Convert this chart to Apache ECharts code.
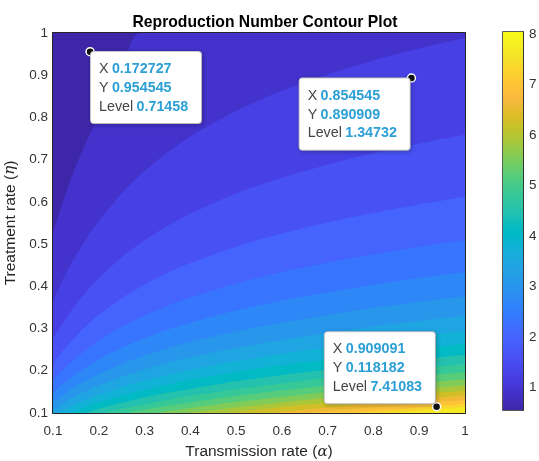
<!DOCTYPE html>
<html><head><meta charset="utf-8">
<script src="https://cdn.jsdelivr.net/npm/echarts@6/dist/echarts.min.js"></script>
<style>html,body{margin:0;padding:0;background:#fff}#c{width:539px;height:461px}</style>
</head><body><div id="c"></div>
<script>
// ---------------- data ----------------
const xTicks = [0.1,0.2,0.3,0.4,0.5,0.6,0.7,0.8,0.9,1];
const yTicks = [0.1,0.2,0.3,0.4,0.5,0.6,0.7,0.8,0.9,1];
const cbTicks = [1,2,3,4,5,6,7,8];
const zMin = 0.56, zMax = 8.04;
const levels = [0.916,1.272,1.629,1.985,2.341,2.697,3.053,3.410,3.766,4.122,4.478,4.834,5.191,5.547,5.903,6.259,6.615,6.972,7.328,7.684];
// contour boundaries: [alpha, eta] points along each level line
const c1 = [[0.1,0.527],[0.125,0.612],[0.15,0.685],[0.175,0.748],[0.2,0.802],[0.25,0.905],[0.29,1],[0.5,1],[1,1]];
const c2 = [[0.1,0.366],[0.125,0.424],[0.15,0.473],[0.175,0.517],[0.2,0.555],[0.25,0.620],[0.3,0.673],[0.35,0.717],[0.4,0.755],[0.5,0.815],[0.6,0.863],[0.7,0.902],[0.8,0.935],[0.9,0.963],[1,0.988]];
const c3 = [[0.1,0.276],[0.125,0.319],[0.15,0.357],[0.175,0.390],[0.2,0.419],[0.25,0.469],[0.3,0.509],[0.35,0.543],[0.4,0.572],[0.5,0.620],[0.6,0.657],[0.7,0.688],[0.8,0.715],[0.9,0.738],[1,0.759]];
const c4 = [[0.1,0.218],[0.125,0.252],[0.15,0.282],[0.175,0.309],[0.2,0.332],[0.25,0.372],[0.3,0.404],[0.35,0.432],[0.4,0.455],[0.5,0.494],[0.6,0.525],[0.7,0.551],[0.8,0.574],[0.9,0.594],[1,0.612]];
const c5 = [[0.1,0.177],[0.125,0.206],[0.15,0.230],[0.175,0.252],[0.2,0.271],[0.25,0.304],[0.3,0.331],[0.35,0.354],[0.4,0.374],[0.5,0.407],[0.6,0.434],[0.7,0.456],[0.8,0.476],[0.9,0.494],[1,0.510]];
const c6 = [[0.1,0.148],[0.125,0.171],[0.15,0.192],[0.175,0.210],[0.2,0.227],[0.25,0.254],[0.3,0.277],[0.35,0.297],[0.4,0.314],[0.5,0.343],[0.6,0.366],[0.7,0.386],[0.8,0.404],[0.9,0.420],[1,0.434]];
const c7 = [[0.1,0.125],[0.125,0.145],[0.15,0.163],[0.175,0.178],[0.2,0.192],[0.25,0.216],[0.3,0.236],[0.35,0.253],[0.4,0.268],[0.5,0.293],[0.6,0.314],[0.7,0.332],[0.8,0.349],[0.9,0.363],[1,0.377]];
const c8 = [[0.1,0.107],[0.125,0.124],[0.15,0.140],[0.175,0.153],[0.2,0.165],[0.25,0.186],[0.3,0.203],[0.35,0.219],[0.4,0.232],[0.5,0.254],[0.6,0.273],[0.7,0.290],[0.8,0.305],[0.9,0.318],[1,0.331]];
const c9 = [[0.1125,0.1],[0.125,0.107],[0.15,0.121],[0.175,0.132],[0.2,0.143],[0.25,0.161],[0.3,0.177],[0.35,0.190],[0.4,0.202],[0.5,0.223],[0.6,0.240],[0.7,0.255],[0.8,0.269],[0.9,0.282],[1,0.294]];
const c10 = [[0.1386,0.1],[0.15,0.105],[0.175,0.116],[0.2,0.125],[0.25,0.141],[0.3,0.155],[0.35,0.167],[0.4,0.178],[0.5,0.197],[0.6,0.213],[0.7,0.227],[0.8,0.240],[0.9,0.252],[1,0.264]];
const c11 = [[0.1714,0.1],[0.175,0.101],[0.2,0.110],[0.25,0.124],[0.3,0.137],[0.35,0.148],[0.4,0.157],[0.5,0.175],[0.6,0.190],[0.7,0.203],[0.8,0.215],[0.9,0.227],[1,0.238]];
const c12 = [[0.2122,0.1],[0.25,0.110],[0.3,0.121],[0.35,0.131],[0.4,0.140],[0.5,0.156],[0.6,0.170],[0.7,0.183],[0.8,0.194],[0.9,0.205],[1,0.216]];
const c13 = [[0.263,0.1],[0.3,0.108],[0.35,0.117],[0.4,0.125],[0.5,0.140],[0.6,0.153],[0.7,0.165],[0.8,0.176],[0.9,0.187],[1,0.197]];
const c14 = [[0.325,0.1],[0.35,0.104],[0.4,0.112],[0.5,0.126],[0.6,0.138],[0.7,0.150],[0.8,0.160],[0.9,0.171],[1,0.180]];
const c15 = [[0.398,0.1],[0.5,0.113],[0.6,0.125],[0.7,0.136],[0.8,0.146],[0.9,0.156],[1,0.166]];
const c16 = [[0.481,0.1],[0.5,0.102],[0.6,0.114],[0.7,0.124],[0.8,0.134],[0.9,0.144],[1,0.153]];
const c17 = [[0.57,0.1],[0.6,0.103],[0.7,0.113],[0.8,0.123],[0.9,0.132],[1,0.142]];
const c18 = [[0.662,0.1],[0.7,0.104],[0.8,0.113],[0.9,0.122],[1,0.131]];
const c19 = [[0.754,0.1],[0.8,0.104],[0.9,0.113],[1,0.122]];
const c20 = [[0.846,0.1],[0.9,0.105],[1,0.114]];
const contours = [c1,c2,c3,c4,c5,c6,c7,c8,c9,c10,c11,c12,c13,c14,c15,c16,c17,c18,c19,c20];
// data tips
const tipX = ['0.172727','0.854545','0.909091'];
const tipY = ['0.954545','0.890909','0.118182'];
const tipLevel = ['0.71458','1.34732','7.41083'];
const tipMarkerX = [0.181, 0.883, 0.938];
const tipMarkerY = [0.9557, 0.8934, 0.1149];

// ---------------- styling ----------------
const parula = [[0.2422,0.1504,0.6603],[0.2504,0.1650,0.7076],[0.2578,0.1818,0.7511],[0.2647,0.1978,0.7952],[0.2706,0.2147,0.8364],[0.2751,0.2342,0.8710],[0.2783,0.2559,0.8991],[0.2803,0.2782,0.9221],[0.2813,0.3006,0.9414],[0.2810,0.3228,0.9579],[0.2795,0.3447,0.9717],[0.2760,0.3667,0.9829],[0.2699,0.3892,0.9906],[0.2602,0.4123,0.9952],[0.2440,0.4358,0.9988],[0.2206,0.4603,0.9973],[0.1963,0.4847,0.9892],[0.1834,0.5074,0.9798],[0.1786,0.5289,0.9682],[0.1764,0.5499,0.9520],[0.1687,0.5703,0.9359],[0.1540,0.5902,0.9218],[0.1460,0.6091,0.9079],[0.1380,0.6276,0.8973],[0.1248,0.6459,0.8883],[0.1113,0.6635,0.8763],[0.0952,0.6798,0.8598],[0.0689,0.6948,0.8394],[0.0297,0.7082,0.8163],[0.0036,0.7203,0.7917],[0.0067,0.7312,0.7660],[0.0433,0.7411,0.7394],[0.0964,0.7500,0.7120],[0.1408,0.7584,0.6842],[0.1717,0.7670,0.6554],[0.1938,0.7758,0.6251],[0.2161,0.7843,0.5923],[0.2470,0.7918,0.5567],[0.2906,0.7973,0.5188],[0.3406,0.8008,0.4789],[0.3909,0.8029,0.4354],[0.4456,0.8024,0.3909],[0.5044,0.7993,0.3480],[0.5616,0.7942,0.3045],[0.6174,0.7876,0.2612],[0.6720,0.7793,0.2227],[0.7242,0.7698,0.1910],[0.7738,0.7598,0.1646],[0.8203,0.7498,0.1535],[0.8634,0.7406,0.1596],[0.9035,0.7330,0.1774],[0.9393,0.7288,0.2100],[0.9728,0.7298,0.2394],[0.9956,0.7434,0.2371],[0.9970,0.7659,0.2199],[0.9952,0.7893,0.2028],[0.9892,0.8136,0.1885],[0.9786,0.8386,0.1766],[0.9676,0.8639,0.1643],[0.9610,0.8890,0.1537],[0.9597,0.9135,0.1423],[0.9628,0.9373,0.1265],[0.9691,0.9606,0.1064],[0.9769,0.9839,0.0805]];
function rgbOf(c){return 'rgb('+c.map(v=>Math.round(v*255)).join(',')+')';}
function cmap(v){
  let t=(v-zMin)/(zMax-zMin); t=Math.max(0,Math.min(1,t));
  const f=t*63, i=Math.floor(f), j=Math.min(63,i+1), w=f-i;
  return rgbOf(parula[i].map((a,k)=>a+(parula[j][k]-a)*w));
}
const FONT = '"Liberation Sans", Arial, Helvetica, sans-serif';
const AX = '#262626';

const series = [];
series.push({type:'line', xAxisIndex:0, yAxisIndex:0, data:[[xTicks[0],yTicks[yTicks.length-1]],[xTicks[xTicks.length-1],yTicks[yTicks.length-1]]],
  symbol:'none', silent:true, lineStyle:{width:0,opacity:0}, areaStyle:{color:cmap(zMin),opacity:1,origin:'start'}, z:1});
contours.forEach((pts,k)=>{
  series.push({type:'line', xAxisIndex:0, yAxisIndex:0, data:pts, smooth:0.3, symbol:'none', silent:true,
    lineStyle:{width:0,opacity:0}, areaStyle:{color:cmap(levels[k]),opacity:1,origin:'start'}, z:2});
});
const tipPos = [
  {position:[5.7,5], verticalAlign:'top'},
  {position:[-107,5.3], verticalAlign:'top'},
  {position:[-107,1.3], verticalAlign:'bottom'}
];
tipX.forEach((tx,i)=>{
  series.push({type:'scatter', xAxisIndex:0, yAxisIndex:0, z:10, silent:true,
    data:[[tipMarkerX[i], tipMarkerY[i]]], symbol:'circle', symbolSize:8,
    itemStyle:{color:'#111', borderColor:'#fff', borderWidth:1.5, opacity:1},
    label:{show:true, position:tipPos[i].position, align:'left', verticalAlign:tipPos[i].verticalAlign,
      width:93, overflow:'none',
      formatter:'{k|X} {v|'+tx+'}\n{k|Y} {v|'+tipY[i]+'}\n{k|Level} {v|'+tipLevel[i]+'}',
      backgroundColor:'#fff', borderColor:'#d4d4d4', borderWidth:1, borderRadius:3, padding:[8,9,7,8],
      shadowBlur:4, shadowColor:'rgba(0,0,0,0.22)', shadowOffsetX:1, shadowOffsetY:1,
      rich:{k:{fontFamily:FONT, fontSize:14.3, color:'#444', lineHeight:18.7},
            v:{fontFamily:FONT, fontSize:14.3, color:'#2b9fd6', fontWeight:'bold', lineHeight:18.7}}}
  });
});
const stops = parula.map((c,i)=>({offset:i/63, color:rgbOf(c)}));
series.push({type:'bar', xAxisIndex:2, yAxisIndex:2, data:[zMax], barWidth:'100%', silent:true,
  itemStyle:{color:new echarts.graphic.LinearGradient(0,1,0,0,stops)}});

const tickStyle = {show:true, inside:true, length:4, lineStyle:{color:AX,width:1.5}};
const labelStyle = {fontFamily:FONT, fontSize:13.5, color:'#333'};
const nameRich = {i:{fontFamily:'"DejaVu Serif", serif', fontStyle:'italic', fontSize:15, color:AX}};
const option = {
  animation:false,
  backgroundColor:'#fff',
  title:{text:'Reproduction Number Contour Plot', left:260, top:10, textAlign:'center',
    textStyle:{fontFamily:FONT, fontSize:15.7, fontWeight:'bold', color:'#000'}},
  grid:[
    {left:53, right:74, top:33, bottom:48, containLabel:false, outerBoundsMode:'none'},
    {left:503, width:20, top:32, height:378, containLabel:false, outerBoundsMode:'none', show:true, borderColor:AX, borderWidth:1.5, backgroundColor:'transparent'}
  ],
  xAxis:[
    {type:'value', gridIndex:0, min:0.1, max:1, interval:0.1, position:'bottom',
      axisLine:{show:true, onZero:false, lineStyle:{color:AX,width:2}}, axisTick:tickStyle, splitLine:{show:false},
      axisLabel:{...labelStyle, margin:11, formatter:v=>String(+v.toFixed(1))},
      name:'Transmission rate ({i|α})', nameLocation:'middle', nameGap:31,
      nameTextStyle:{fontFamily:FONT, fontSize:15.5, color:AX, rich:nameRich}},
    {type:'value', gridIndex:0, min:0.1, max:1, interval:0.1, position:'top',
      axisLine:{show:true, onZero:false, lineStyle:{color:AX,width:2}}, axisTick:tickStyle, axisLabel:{show:false}, splitLine:{show:false}},
    {type:'category', gridIndex:1, data:[''], show:false}
  ],
  yAxis:[
    {type:'value', gridIndex:0, min:0.1, max:1, interval:0.1, position:'left',
      axisLine:{show:true, onZero:false, lineStyle:{color:AX,width:2}}, axisTick:tickStyle, splitLine:{show:false},
      axisLabel:{...labelStyle, margin:5, formatter:v=>String(+v.toFixed(1))},
      name:'Treatment rate ({i|η})', nameLocation:'middle', nameGap:29,
      nameTextStyle:{fontFamily:FONT, fontSize:15.5, color:AX, rich:nameRich}},
    {type:'value', gridIndex:0, min:0.1, max:1, interval:0.1, position:'right',
      axisLine:{show:true, onZero:false, lineStyle:{color:AX,width:2}}, axisTick:tickStyle, axisLabel:{show:false}, splitLine:{show:false}},
    {type:'value', gridIndex:1, min:zMin, max:zMax, position:'right',
      axisLine:{show:true, lineStyle:{color:AX,width:1.5}},
      axisTick:{show:true, inside:true, length:3, lineStyle:{color:AX,width:1.5}, customValues:cbTicks},
      axisLabel:{...labelStyle, margin:6, customValues:cbTicks}, splitLine:{show:false}}
  ],
  series
};
const chart = echarts.init(document.getElementById('c'), null, {renderer:'canvas'});
chart.setOption(option);
</script></body></html>
